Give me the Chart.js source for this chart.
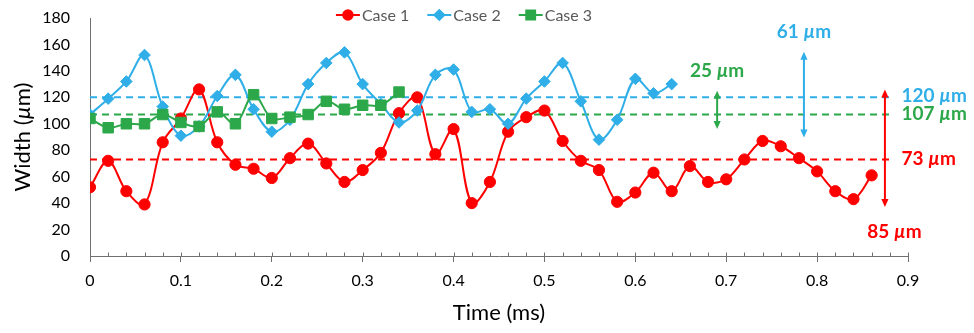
<!DOCTYPE html>
<html>
<head>
<meta charset="utf-8">
<script src="https://cdn.jsdelivr.net/npm/chart.js@4.4.0/dist/chart.umd.min.js"></script>
<style>
  html, body { margin: 0; padding: 0; background: #fff; }
  #wrap { width: 974px; height: 333px; }
</style>
</head>
<body>
<div id="wrap"><canvas id="c" width="974" height="333"></canvas></div>
<script>
// Sampling instants (ms)
const time = [0, 0.02, 0.04, 0.06, 0.08, 0.10, 0.12, 0.14, 0.16, 0.18,
              0.20, 0.22, 0.24, 0.26, 0.28, 0.30, 0.32, 0.34, 0.36, 0.38,
              0.40, 0.42, 0.44, 0.46, 0.48, 0.50, 0.52, 0.54, 0.56, 0.58,
              0.60, 0.62, 0.64, 0.66, 0.68, 0.70, 0.72, 0.74, 0.76, 0.78,
              0.80, 0.82, 0.84, 0.86];

// Measured width (µm) for each case
const case1 = [52, 72, 49, 39, 86, 104, 126, 86, 69, 66,
               59, 74, 85, 70, 56, 65, 78, 108, 120, 77,
               96, 40, 56, 94, 105, 110, 87, 72, 65, 41,
               48, 63, 49, 68, 56, 58, 73, 87, 83, 74,
               64, 49, 43, 61];
const case2 = [107, 119, 132, 152, 113, 91, 98, 121, 137, 111,
               94, 103, 130, 146, 154, 130, 115, 101, 110, 137,
               141, 109, 111, 100, 119, 132, 146, 117, 88, 103,
               134, 123, 130];
const case3 = [104, 97, 100, 100, 107, 101, 98, 109, 100, 122,
               104, 105, 107, 117, 111, 114, 114, 124];

const caseNames = ['Case 1', 'Case 2', 'Case 3'];

// Mean width of each case (dashed reference lines)
const meanWidth = [73, 120, 107];
const meanLineEnd = 0.883;

// Fluctuation range of each case (double arrows)
const rangeAt   = [0.8746, 0.7855, 0.690];
const rangeLow  = [39, 91.5, 98];
const rangeHigh = [124, 152.5, 123];

const xTickLabels = ['0', '0.1', '0.2', '0.3', '0.4', '0.5', '0.6', '0.7', '0.8', '0.9'];
const yTickLabels = ['0', '20', '40', '60', '80', '100', '120', '140', '160', '180'];

const RED = '#FF0000';
const BLUE = '#2FAEE8';
const GREEN = '#2CA84A';
const colors = [RED, BLUE, GREEN];
const AXIS = '#707070';
const FONT = 'Lato, "Open Sans", "DejaVu Sans", sans-serif';

const markers = [
  { pointStyle: 'circle', radius: 5.6 },
  { pointStyle: 'rectRot', radius: 5.8 },
  { pointStyle: 'rect', radius: 7.4 }
];

function pts(values) {
  return values.map((v, i) => ({ x: time[i], y: v }));
}

const seriesValues = [case1, case2, case3];
const datasets = seriesValues.map((vals, k) => ({
  label: caseNames[k],
  data: pts(vals),
  borderColor: colors[k],
  backgroundColor: colors[k],
  borderWidth: 2,
  pointStyle: markers[k].pointStyle,
  pointRadius: markers[k].radius,
  pointHoverRadius: markers[k].radius,
  pointBorderWidth: 1,
  tension: 0.35,
  order: 3 - k
}));

meanWidth.forEach((m, k) => {
  datasets.push({
    label: 'mean ' + caseNames[k],
    data: [{ x: 0, y: m }, { x: meanLineEnd, y: m }],
    borderColor: colors[k],
    borderWidth: 2,
    borderDash: [7, 5],
    pointRadius: 0,
    pointHoverRadius: 0,
    tension: 0,
    order: 10
  });
});

// Text with an italic µ, drawn piece by piece
function drawRich(ctx, parts, x, y, size, weight, color, align) {
  const fonts = parts.map(p => (p[1] ? 'italic ' : '') + weight + ' ' + size + 'px ' + FONT);
  let total = 0;
  const widths = parts.map((p, i) => {
    ctx.font = fonts[i];
    const w = ctx.measureText(p[0]).width;
    total += w;
    return w;
  });
  let cx = align === 'center' ? x - total / 2 : (align === 'right' ? x - total : x);
  ctx.fillStyle = color;
  ctx.textBaseline = 'middle';
  ctx.textAlign = 'left';
  parts.forEach((p, i) => {
    ctx.font = fonts[i];
    ctx.fillText(p[0], cx, y);
    cx += widths[i];
  });
  return total;
}

function umParts(n) {
  return [[n + ' ', false], ['\u00B5', true], ['m', false]];
}

const decorations = {
  id: 'decorations',
  afterDatasetsDraw(chart) {
    const ctx = chart.ctx;
    const xs = chart.scales.x, ys = chart.scales.y;
    ctx.save();

    // inner minor ticks on the time axis
    ctx.strokeStyle = AXIS;
    ctx.lineWidth = 1;
    const yb = Math.round(ys.getPixelForValue(0)) + 0.5;
    for (let i = 1; i <= 45; i++) {
      const px = Math.round(xs.getPixelForValue(i * 0.02)) + 0.5;
      ctx.beginPath();
      ctx.moveTo(px, yb - 4);
      ctx.lineTo(px, yb);
      ctx.stroke();
    }

    // range arrows
    const head = 8, half = 3.6, over = 2.5;
    rangeAt.forEach((t, k) => {
      const px = xs.getPixelForValue(t);
      const top = ys.getPixelForValue(rangeHigh[k]) - over;
      const bot = ys.getPixelForValue(rangeLow[k]) + over;
      ctx.strokeStyle = colors[k];
      ctx.fillStyle = colors[k];
      ctx.lineWidth = 2;
      ctx.beginPath();
      ctx.moveTo(px, top + head - 1);
      ctx.lineTo(px, bot - head + 1);
      ctx.stroke();
      ctx.beginPath();
      ctx.moveTo(px, top);
      ctx.lineTo(px - half, top + head);
      ctx.lineTo(px + half, top + head);
      ctx.closePath();
      ctx.fill();
      ctx.beginPath();
      ctx.moveTo(px, bot);
      ctx.lineTo(px - half, bot - head);
      ctx.lineTo(px + half, bot - head);
      ctx.closePath();
      ctx.fill();

      const label = umParts(Math.round(rangeHigh[k] - rangeLow[k]));
      if (k === 0) {
        drawRich(ctx, label, px + 9.5, bot + 25, 19, 'bold', colors[k], 'center');
      } else {
        drawRich(ctx, label, px, top - 20, 19, 'bold', colors[k], 'center');
      }
    });

    // mean value labels
    meanWidth.forEach((m, k) => {
      const px = xs.getPixelForValue(meanLineEnd) + 9;
      drawRich(ctx, umParts(m), px, ys.getPixelForValue(m) - 1, 19, 'bold', colors[k], 'left');
    });

    // vertical axis title
    ctx.save();
    ctx.translate(23, (ys.top + ys.bottom) / 2);
    ctx.rotate(-Math.PI / 2);
    drawRich(ctx, [['Width (', false], ['\u00B5', true], ['m)', false]], 0, 0, 22, 'normal', '#000', 'center');
    ctx.restore();

    // legend: line sample with marker, then name
    ctx.font = '16px ' + FONT;
    const seg = 24, gapText = 2, gapItem = 18;
    const widths = caseNames.map(n => ctx.measureText(n).width);
    const totalW = widths.reduce((a, w) => a + seg + gapText + w, 0) + gapItem * (caseNames.length - 1);
    let lx = 464 - totalW / 2;
    const ly = 15;
    caseNames.forEach((name, k) => {
      ctx.strokeStyle = colors[k];
      ctx.lineWidth = 2;
      ctx.beginPath();
      ctx.moveTo(lx, ly);
      ctx.lineTo(lx + seg, ly);
      ctx.stroke();
      ctx.fillStyle = colors[k];
      Chart.helpers.drawPoint(ctx, {
        pointStyle: markers[k].pointStyle,
        radius: markers[k].radius * 0.85,
        rotation: 0,
        borderWidth: 1
      }, lx + seg / 2, ly);
      ctx.fill();
      ctx.fillStyle = '#595959';
      ctx.font = '16px ' + FONT;
      ctx.textBaseline = 'middle';
      ctx.textAlign = 'left';
      ctx.fillText(name, lx + seg + gapText, ly + 1);
      lx += seg + gapText + widths[k] + gapItem;
    });

    ctx.restore();
  }
};

new Chart(document.getElementById('c'), {
  type: 'line',
  data: { datasets },
  plugins: [decorations],
  options: {
    responsive: false,
    devicePixelRatio: 1,
    animation: false,
    events: [],
    layout: { autoPadding: false, padding: { left: 0, right: 66, top: 18, bottom: 0 } },
    plugins: { legend: { display: false }, tooltip: { enabled: false } },
    scales: {
      x: {
        type: 'linear',
        min: 0,
        max: 0.9,
        afterFit: s => {
          s.height = 77;
          s.paddingLeft = 0; s.paddingRight = 0; s.paddingTop = 0; s.paddingBottom = 0;
        },
        afterBuildTicks: s => { s.ticks = xTickLabels.map(l => ({ value: parseFloat(l) })); },
        ticks: {
          padding: 9,
          maxRotation: 0,
          autoSkip: false,
          color: '#000',
          font: { family: FONT, size: 16 },
          callback: (v, i) => xTickLabels[i]
        },
        grid: { drawOnChartArea: false, tickLength: 6, tickColor: AXIS, tickWidth: 1 },
        border: { color: AXIS, width: 1 },
        title: {
          display: true,
          text: 'Time (ms)',
          color: '#000',
          font: { family: FONT, size: 22 },
          padding: { top: 0, bottom: 7 }
        }
      },
      y: {
        min: 0,
        max: 180,
        afterFit: s => {
          s.width = 90;
          s.paddingLeft = 0; s.paddingRight = 0; s.paddingTop = 0; s.paddingBottom = 0;
        },
        afterBuildTicks: s => { s.ticks = yTickLabels.map(l => ({ value: parseFloat(l) })); },
        ticks: {
          padding: 20,
          color: '#000',
          font: { family: FONT, size: 16 },
          callback: (v, i) => yTickLabels[i]
        },
        grid: { drawOnChartArea: false, drawTicks: false },
        border: { color: AXIS, width: 1 }
      }
    }
  }
});
</script>
</body>
</html>
